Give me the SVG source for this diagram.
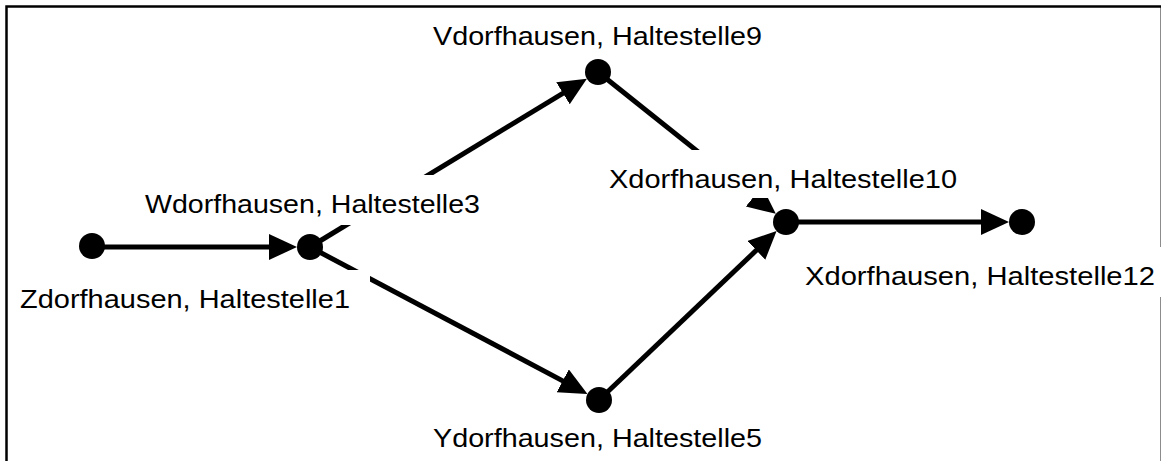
<svg xmlns="http://www.w3.org/2000/svg" width="1161" height="461" viewBox="0 0 1161 461">
<style>
.edge{stroke:#000;stroke-width:5;fill:none}
.node{fill:#000}
.bg{fill:#fff}
.lbl{font-family:"Liberation Sans",Arial,sans-serif;font-size:26px;fill:#000}
</style>
<defs>
<marker id="arr" markerUnits="userSpaceOnUse" markerWidth="32" markerHeight="32" refX="8" refY="13" orient="auto">
<path d="M0,0 L28,13 L0,26 z" fill="#000"/>
</marker>
</defs>
<rect x="0" y="0" width="1161" height="461" fill="#fff"/>
<rect x="6.5" y="6.5" width="1155.3" height="470" fill="none" stroke="#000" stroke-width="2.5"/>
<g id="connectors">
<line class="edge" x1="92" y1="247" x2="277" y2="247" marker-end="url(#arr)"/>
<line class="edge" x1="310" y1="247" x2="569.8" y2="89.1" marker-end="url(#arr)"/>
<line class="edge" x1="310" y1="247" x2="569.8" y2="384.6" marker-end="url(#arr)"/>
<line class="edge" x1="598" y1="72" x2="760.2" y2="201.4" marker-end="url(#arr)"/>
<line class="edge" x1="599" y1="400" x2="762.1" y2="244.8" marker-end="url(#arr)"/>
<line class="edge" x1="786" y1="222" x2="989" y2="222" marker-end="url(#arr)"/>
</g>
<g id="labels">
<rect class="bg" x="420" y="9" width="355" height="48"/>
<text class="lbl" x="433" y="45" textLength="329" lengthAdjust="spacingAndGlyphs">Vdorfhausen, Haltestelle9</text>
<rect class="bg" x="130" y="175" width="360" height="50"/>
<text class="lbl" x="145" y="213" textLength="335" lengthAdjust="spacingAndGlyphs">Wdorfhausen, Haltestelle3</text>
<rect class="bg" x="9" y="270" width="361" height="50"/>
<text class="lbl" x="20" y="308" textLength="330" lengthAdjust="spacingAndGlyphs">Zdorfhausen, Haltestelle1</text>
<rect class="bg" x="595" y="150" width="375" height="48"/>
<text class="lbl" x="609" y="188" textLength="348" lengthAdjust="spacingAndGlyphs">Xdorfhausen, Haltestelle10</text>
<rect class="bg" x="795" y="247" width="370" height="50"/>
<text class="lbl" x="805" y="285" textLength="350" lengthAdjust="spacingAndGlyphs">Xdorfhausen, Haltestelle12</text>
<rect class="bg" x="420" y="409" width="355" height="50"/>
<text class="lbl" x="433" y="447" textLength="329" lengthAdjust="spacingAndGlyphs">Ydorfhausen, Haltestelle5</text>
</g>
<g id="node-z"><circle class="node" cx="92" cy="246" r="13"/></g>
<g id="node-w"><circle class="node" cx="310" cy="247" r="13"/></g>
<g id="node-v"><circle class="node" cx="598" cy="72" r="13"/></g>
<g id="node-x10"><circle class="node" cx="786" cy="222" r="13"/></g>
<g id="node-x12"><circle class="node" cx="1022" cy="222" r="13"/></g>
<g id="node-y"><circle class="node" cx="599" cy="400" r="13"/></g>
</svg>
